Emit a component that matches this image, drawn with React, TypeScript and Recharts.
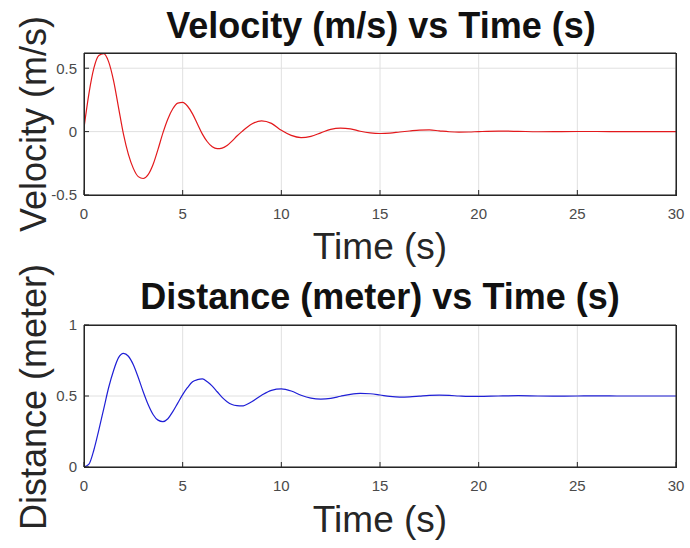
import { LineChart, Line, XAxis, YAxis, CartesianGrid } from 'recharts'

// sample times (s): fine steps while the oscillation is large, coarser on the tail
const time = [
  0, 0.25, 0.5, 0.75, 1, 1.25, 1.5, 1.75, 2, 2.25, 2.5, 2.75, 3, 3.25, 3.5, 3.75, 4,
  4.25, 4.5, 4.75, 5, 5.25, 5.5, 5.75, 6, 6.25, 6.5, 6.75, 7, 7.25, 7.5, 7.75, 8,
  8.5, 9, 9.5, 10, 10.5, 11, 11.5, 12, 12.5, 13, 13.5, 14, 14.5, 15, 15.5, 16,
  16.5, 17, 17.5, 18, 18.5, 19, 19.5, 20,
  21, 22, 23, 24, 25, 26, 27, 28, 29, 30,
]
const velocity = [
  0.03, 0.3, 0.5, 0.6, 0.615, 0.55, 0.4, 0.19, -0.02, -0.18, -0.29, -0.355, -0.37, -0.34, -0.26, -0.14, -0.01,
  0.1, 0.18, 0.225, 0.23, 0.2, 0.14, 0.06, -0.02, -0.08, -0.12, -0.135, -0.13, -0.11, -0.075, -0.035, 0,
  0.06, 0.085, 0.065, 0.01, -0.03, -0.047, -0.037, -0.01, 0.018, 0.028, 0.022, 0.003, -0.01, -0.015, -0.012, -0.003,
  0.005, 0.012, 0.013, 0.006, -0.001, -0.004, -0.003, 0,
  0.004, 0.002, -0.001, 0, 0.001, 0.001, 0, 0, 0, 0,
]
const distance = [
  0, 0.02, 0.12, 0.26, 0.41, 0.56, 0.68, 0.77, 0.8, 0.78, 0.72, 0.63, 0.53, 0.44, 0.37, 0.33, 0.32,
  0.34, 0.39, 0.45, 0.51, 0.56, 0.6, 0.615, 0.62, 0.6, 0.57, 0.53, 0.49, 0.46, 0.44, 0.432, 0.43,
  0.46, 0.505, 0.54, 0.55, 0.535, 0.505, 0.485, 0.478, 0.483, 0.498, 0.512, 0.519, 0.516, 0.507, 0.497, 0.492,
  0.494, 0.499, 0.504, 0.506, 0.504, 0.5, 0.497, 0.497,
  0.5, 0.502, 0.5, 0.499, 0.5, 0.501, 0.5, 0.5, 0.5, 0.5,
]
const xTicks = [0, 5, 10, 15, 20, 25, 30]
const velocityTicks = [-0.5, 0, 0.5]
const distanceTicks = [0, 0.5, 1]
const titles = ['Velocity (m/s) vs Time (s)', 'Distance (meter) vs Time (s)']
const yLabels = ['Velocity (m/s)', 'Distance (meter)']
const xLabel = 'Time (s)'

const FONT = '"Liberation Sans", Arial, Helvetica, sans-serif'
const INK = '#262626'
const TICK = { fontSize: 15, fill: '#4a4a4a', fontFamily: FONT }

// plot frame: 84..676 across, 53..195 down inside each 270px panel
const PLOT = { left: 84, top: 53, width: 592, height: 142 }
const PANEL_TOPS = [0, 272]

const rows = time.map((t, i) => ({ t, v: velocity[i], d: distance[i] }))

function Panel({ top, dataKey, color, domain, yTicks }: any) {
  return (
    <div style={{ position: 'absolute', left: 0, top }}>
      <LineChart width={690} height={270} data={rows}
        margin={{ top: PLOT.top - 1, right: 690 - PLOT.left - PLOT.width - 1, bottom: 45, left: 0 }}>
        <CartesianGrid stroke="#e0e0e0" />
        <XAxis dataKey="t" type="number" domain={[0, 30]} ticks={xTicks} allowDataOverflow interval={0}
          height={30} tickSize={-5} tickMargin={18} tick={TICK}
          axisLine={{ stroke: INK }} tickLine={{ stroke: INK }} />
        {/* mirrored axes: inward ticks on the top and right of the box */}
        <XAxis xAxisId="top" orientation="top" dataKey="t" type="number" domain={[0, 30]} ticks={xTicks}
          allowDataOverflow interval={0} height={1} tickSize={-5} tick={false}
          axisLine={{ stroke: INK }} tickLine={{ stroke: INK }} />
        <YAxis type="number" domain={domain} ticks={yTicks} allowDataOverflow interval={0}
          width={PLOT.left} tickSize={-5} tickMargin={12} tick={TICK}
          axisLine={{ stroke: INK }} tickLine={{ stroke: INK }} />
        <YAxis yAxisId="right" orientation="right" type="number" domain={domain} ticks={yTicks}
          allowDataOverflow interval={0} width={1} tickSize={-5} tick={false}
          axisLine={{ stroke: INK }} tickLine={{ stroke: INK }} />
        <Line dataKey={dataKey} type="monotone" stroke={color} strokeWidth={1.2} dot={false}
          isAnimationActive={false} />
      </LineChart>
    </div>
  )
}

export default function App() {
  return (
    <div style={{ position: 'absolute', left: 0, top: 0, width: 690, height: 548, background: '#fff', overflow: 'hidden' }}>
      <Panel top={PANEL_TOPS[0]} dataKey="v" color="#e3191c" domain={[-0.5, 0.62]} yTicks={velocityTicks} />
      <Panel top={PANEL_TOPS[1]} dataKey="d" color="#1f1fd6" domain={[0, 1]} yTicks={distanceTicks} />
      <svg width={690} height={548} style={{ position: 'absolute', left: 0, top: 0, pointerEvents: 'none' }}
        fontFamily={FONT} fill="#111">
        {PANEL_TOPS.map((pt) => (
          <rect key={pt} x={PLOT.left + 0.5} y={pt + PLOT.top + 0.5} width={PLOT.width} height={PLOT.height}
            fill="none" stroke={INK} strokeWidth={1} />
        ))}
        <text x={381} y={38} textAnchor="middle" fontSize={36} fontWeight="bold">{titles[0]}</text>
        <text x={380} y={309} textAnchor="middle" fontSize={36} fontWeight="bold">{titles[1]}</text>
        <text transform="translate(46,124) rotate(-90)" textAnchor="middle" fontSize={36} fill="#262626">{yLabels[0]}</text>
        <text transform="translate(46,397) rotate(-90)" textAnchor="middle" fontSize={36} fill="#262626">{yLabels[1]}</text>
        <text x={380} y={259} textAnchor="middle" fontSize={37} fill="#262626">{xLabel}</text>
        <text x={380} y={532} textAnchor="middle" fontSize={37} fill="#262626">{xLabel}</text>
      </svg>
    </div>
  )
}
